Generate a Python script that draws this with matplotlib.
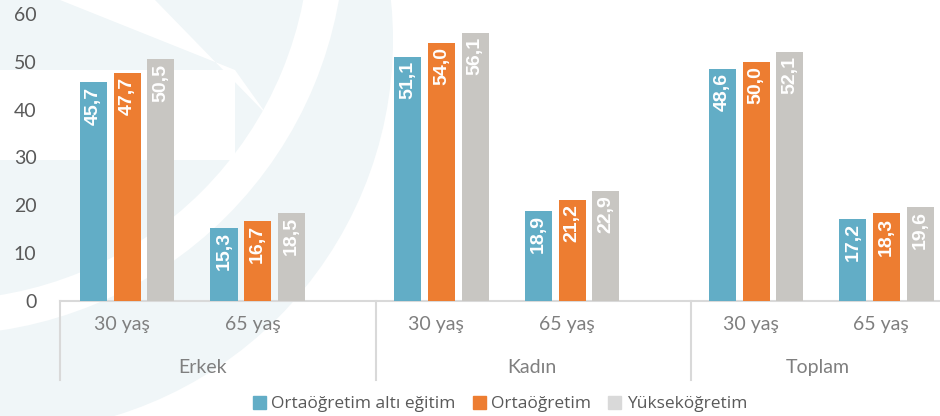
import numpy as np
import matplotlib
matplotlib.use("Agg")
import matplotlib.pyplot as plt
from matplotlib.patches import Circle, Wedge, Rectangle, Patch

# data
groups = ["Erkek", "Kadın", "Toplam"]
ages = ["30 yaş", "65 yaş"]
series = ["Ortaöğretim altı eğitim", "Ortaöğretim", "Yükseköğretim"]
alt_egitim = [45.7, 15.3, 51.1, 18.9, 48.6, 17.2]
orta = [47.7, 16.7, 54.0, 21.2, 50.0, 18.3]
yuksek = [50.5, 18.5, 56.1, 22.9, 52.1, 19.6]
values = [alt_egitim, orta, yuksek]

bar_colors = ["#62ADC6", "#ED7D31", "#C8C6C2"]
legend_colors = ["#62ADC6", "#ED7D31", "#D9D9D9"]

fig = plt.figure(figsize=(9.4, 4.16), dpi=100)

# faint watermark in the background (pixel coords)
bg = fig.add_axes([0, 0, 1, 1], zorder=-5)
bg.set_xlim(0, 940)
bg.set_ylim(416, 0)
bg.axis("off")
tint = "#F0F6F8"
bg.add_patch(Circle((0, 40), 393, color=tint, lw=0))
bg.add_patch(Wedge((-60, -70), 405, 0, 360, width=35, color="white", lw=0))
bg.add_patch(Rectangle((0, 70), 235, 90, color="white", lw=0))
bg.add_patch(plt.Polygon([(60, 0), (155, 0), (267, 115), (235, 70)], color="white", lw=0))

ax = fig.add_axes([60 / 940, 115 / 416, 880 / 940, 287 / 416])
ax.patch.set_alpha(0)

# slot positions: two ages per group, wider gap between groups
pos = []
for g in range(len(groups)):
    for s in range(len(ages)):
        pos.append(g * 2.41 + s)
pos = np.array(pos)

w = 0.207
step = 0.258
for i, vals in enumerate(values):
    xs = pos + (i - 1) * step
    ax.bar(xs, vals, width=w, color=bar_colors[i], zorder=3)
    for x, v in zip(xs, vals):
        ax.annotate(f"{v:.1f}".replace(".", ","), (x, v), xytext=(0, -3),
                    textcoords="offset points", rotation=90, ha="center", va="top",
                    color="white", fontsize=14, fontweight="bold",
                    family="Liberation Sans", zorder=4)

ax.set_xlim(-0.515, 6.23)
ax.set_ylim(0, 60)
ax.set_yticks(range(0, 61, 10))
ax.tick_params(axis="y", length=0, pad=17, labelsize=14, labelcolor="#595959")
for lab in ax.get_yticklabels():
    lab.set_family("Lato")
ax.set_xticks([])
for sp in ["top", "right", "left"]:
    ax.spines[sp].set_visible(False)
ax.spines["bottom"].set_color("#D9D9D9")
ax.spines["bottom"].set_linewidth(1.5)

# multi-level category axis
for x, a in zip(pos, ages * len(groups)):
    ax.text(x - 0.04, -5.0, a, ha="center", va="center", fontsize=14,
            color="#7F7F7F", family="Lato", clip_on=False)
bounds = [-0.515, 1.91, 4.32]
for b in bounds:
    ax.plot([b, b], [0, -16.6], color="#D9D9D9", lw=1.5, clip_on=False)
centers = [0.58, 3.10, 5.295]
for c, g in zip(centers, groups):
    ax.text(c, -14.0, g, ha="center", va="center", fontsize=14,
            color="#7F7F7F", family="Lato", clip_on=False)

handles = [Patch(color=c) for c in legend_colors]
fig.legend(handles, series, loc="center", bbox_to_anchor=(500 / 940, 1 - 404 / 416),
           ncol=3, frameon=False, handlelength=0.75, handleheight=0.75,
           handletextpad=0.3, columnspacing=1.0,
           prop={"family": "Open Sans", "size": 12.5}, labelcolor="#595959")

fig.savefig("out.png", dpi=100)
